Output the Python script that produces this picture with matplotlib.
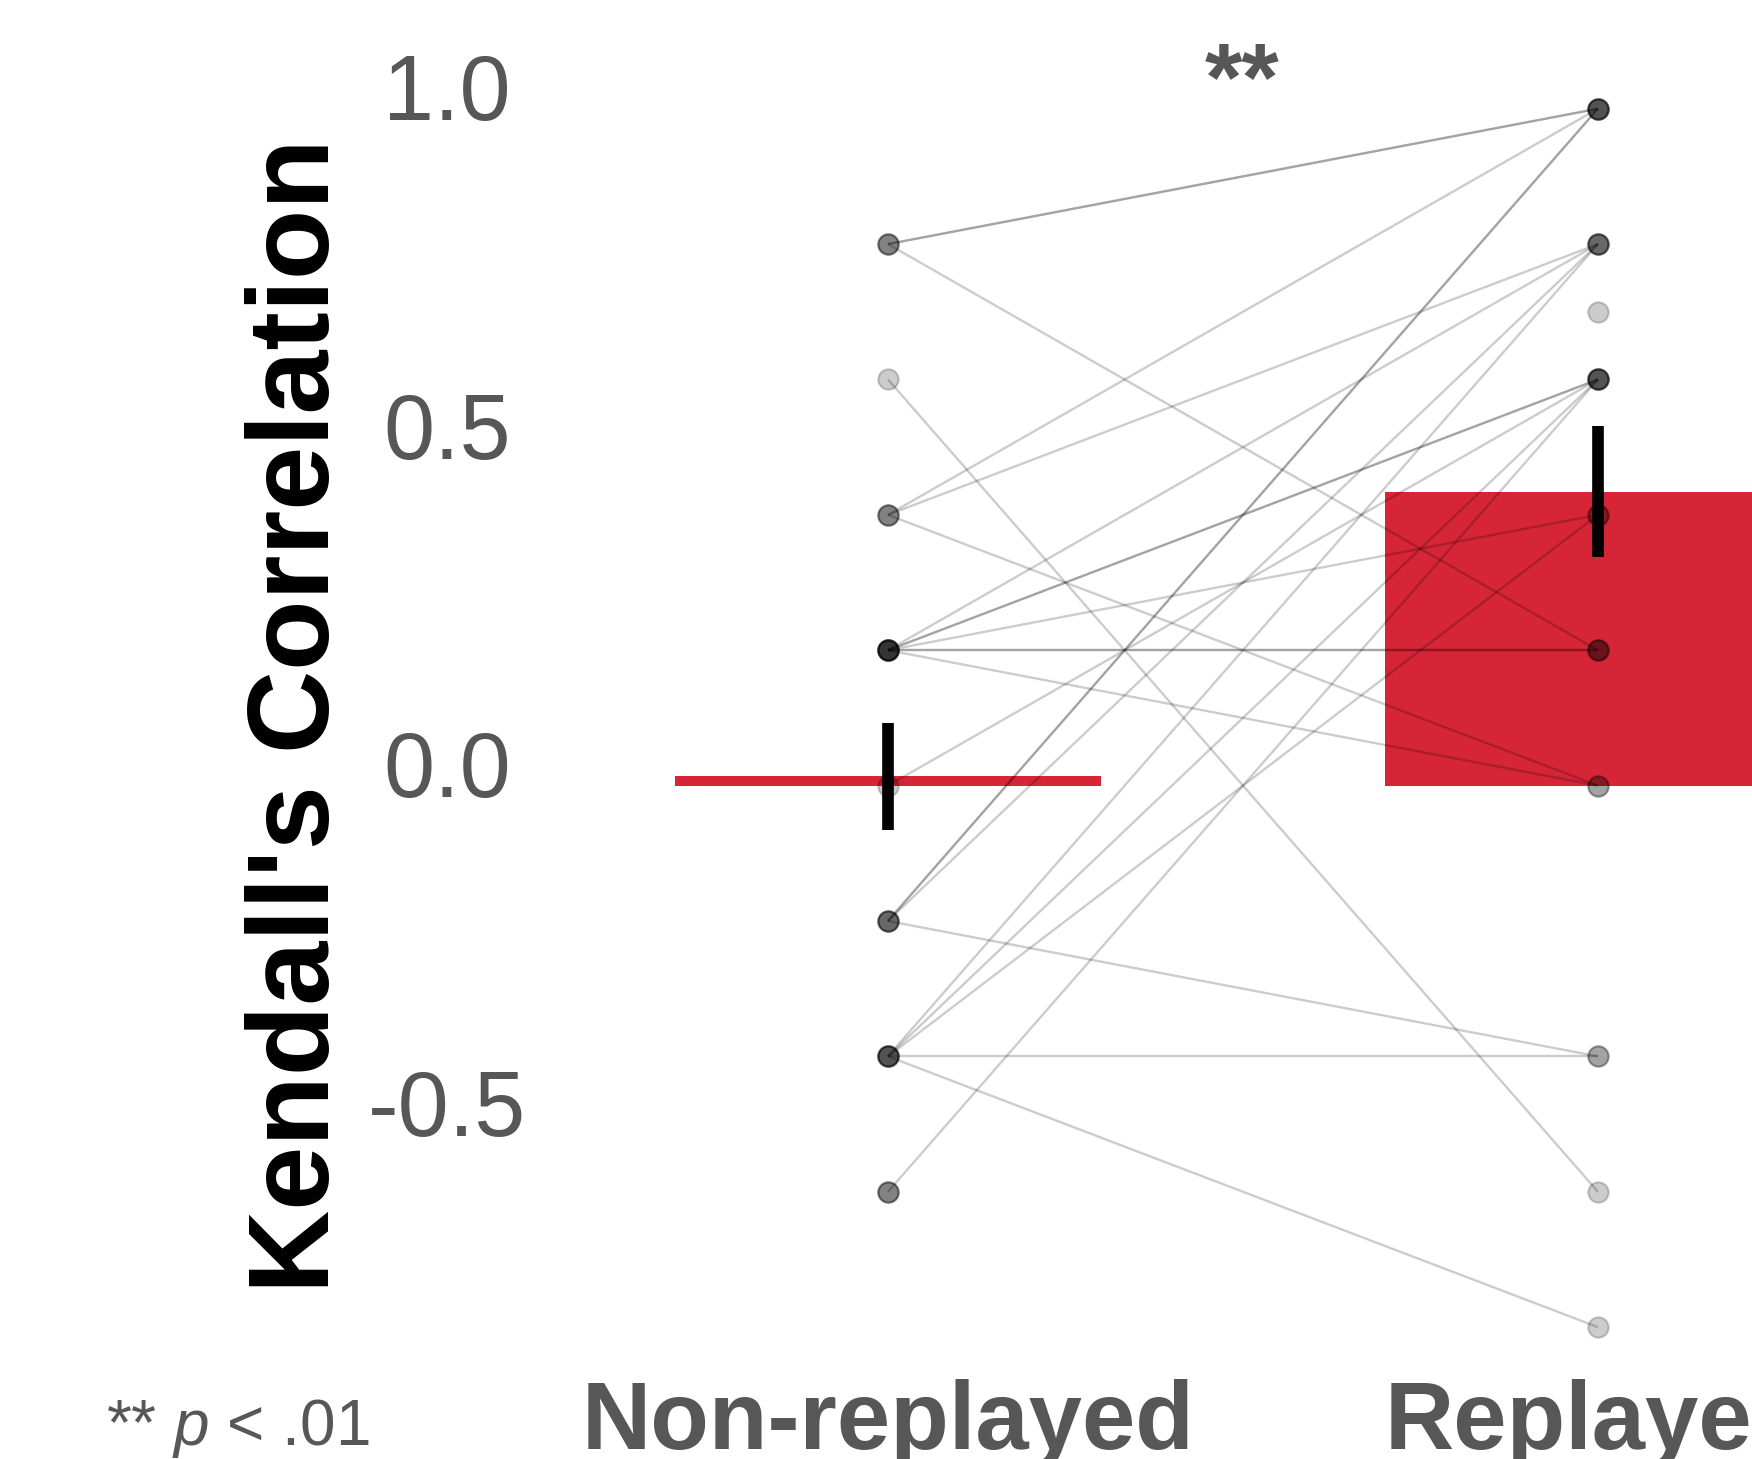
import numpy as np
import matplotlib
matplotlib.use("Agg")
import matplotlib.pyplot as plt
from matplotlib.transforms import ScaledTranslation

# ---------------- data ----------------
categories = ["Non-replayed", "Replayed"]
# paired Kendall's tau per participant (nan = missing)
non_replayed = [0.8, 0.8, 0.8,
                0.6,
                0.4, 0.4, 0.4,
                0.2, 0.2, 0.2, 0.2, 0.2, 0.2, 0.2,
                0.0,
                -0.2, -0.2, -0.2, -0.2,
                -0.4, -0.4, -0.4, -0.4, -0.4,
                -0.6, -0.6, -0.6,
                np.nan]
replayed = [1.0, 1.0, 0.2,
            -0.6,
            1.0, 0.8, 0.0,
            0.8, 0.6, 0.6, 0.4, 0.2, 0.2, 0.0,
            0.6,
            1.0, 1.0, 0.8, -0.4,
            0.8, 0.6, 0.4, -0.4, -0.8,
            0.6, np.nan, np.nan,
            0.7]
group_means = [0.014, 0.434]
group_sems = [0.079, 0.097]
yticks = [-0.5, 0.0, 0.5, 1.0]
ytick_labels = ["-0.5", "0.0", "0.5", "1.0"]
sig_label = "**"
note_label = r"** $p$ < .01"
ylabel = "Kendall's Correlation"

# ---------------- style ----------------
RED = "#D62537"
GRAY = "#575757"
plt.rcParams["mathtext.fontset"] = "custom"
plt.rcParams["mathtext.it"] = "Liberation Sans:italic"
plt.rcParams["mathtext.rm"] = "Liberation Sans"

W, H = 1752, 1459
fig = plt.figure(figsize=(W / 100, H / 100), dpi=100)
fig.patch.set_facecolor("white")
ax = fig.add_axes([533 / W, 1 - 1340 / H, (1752 - 533) / W, (1340 - 40) / H])
ax.set_xlim(-0.5, 1.217)
ax.set_ylim(-0.819, 1.1015)
for s in ax.spines.values():
    s.set_visible(False)

x = np.arange(len(categories))
ax.bar(x, group_means, width=0.6, color=RED, zorder=1)

nr = np.array(non_replayed, dtype=float)
rp = np.array(replayed, dtype=float)

# points
m0 = ~np.isnan(nr)
m1 = ~np.isnan(rp)
ax.scatter(np.zeros(m0.sum()), nr[m0], s=215, facecolor="black", edgecolor="black",
           linewidths=1.5, alpha=0.2, zorder=2, clip_on=False)
ax.scatter(np.ones(m1.sum()), rp[m1], s=215, facecolor="black", edgecolor="black",
           linewidths=1.5, alpha=0.2, zorder=2, clip_on=False)

# paired lines
for a, b in zip(nr, rp):
    if np.isnan(a) or np.isnan(b):
        continue
    ax.plot([0, 1], [a, b], color="black", alpha=0.2, lw=1.7, zorder=3,
            solid_capstyle="butt")

# error bars
ax.errorbar(x, group_means, yerr=group_sems, fmt="none", ecolor="black",
            elinewidth=8.4, capsize=0, zorder=4)

# x tick labels
ax.set_xticks(x)
ax.set_xticklabels(categories, fontsize=69, fontweight="bold", color=GRAY,
                   family="Liberation Sans")
ax.tick_params(axis="x", length=0, pad=28)

# y tick labels
ax.set_yticks(yticks)
ax.set_yticklabels(ytick_labels, fontsize=66, color=GRAY,
                   family="Liberation Sans", fontweight="normal")
ax.tick_params(axis="y", length=0, pad=62)
off = ScaledTranslation(0, 22 / 100, fig.dpi_scale_trans)
for lab in ax.get_yticklabels():
    lab.set_horizontalalignment("center")
    lab.set_transform(lab.get_transform() + off)

# y label
fig.text(299 / W, 1 - 716 / H, ylabel, rotation=90, ha="center", va="center",
         fontsize=83, fontweight="bold", color="black", family="Liberation Sans")

# significance stars
fig.text(1242 / W, 1 - 109 / H, sig_label, ha="center", va="baseline",
         fontsize=69, fontweight="bold", color=GRAY, family="Liberation Sans")

# note
fig.text(106 / W, 1 - 1445 / H, note_label, ha="left", va="baseline",
         fontsize=46, color=GRAY, family="Liberation Sans")

fig.savefig("out.png", dpi=100, facecolor="white")
